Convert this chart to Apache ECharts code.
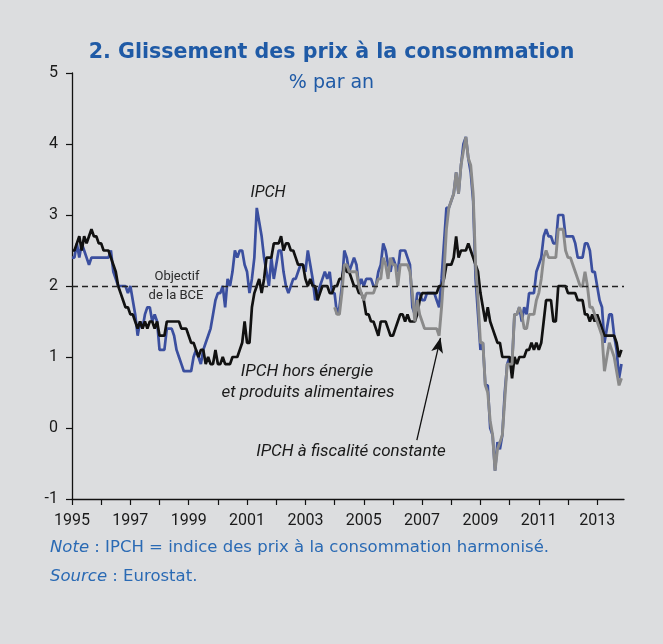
<!DOCTYPE html>
<html>
<head>
<meta charset="utf-8">
<script src="https://cdn.jsdelivr.net/npm/echarts@6/dist/echarts.min.js"></script>
<style>
html,body{margin:0;padding:0;background:#dcdddf;}
#c{width:663px;height:644px;}
</style>
</head>
<body>
<div id="c"></div>
<script>
// Monthly data, Jan 1995 - Nov 2013 (% per year)
const startYear = 1995;
const yearTicks = [1995,1996,1997,1998,1999,2000,2001,2002,2003,2004,2005,2006,2007,2008,2009,2010,2011,2012,2013];
const yearLabels = [1995,1997,1999,2001,2003,2005,2007,2009,2011,2013];

// IPCH (HICP)
const ipch = [
  2.4,2.4,2.6,2.4,2.6,2.5,2.4,2.3,2.4,2.4,2.4,2.4,
  2.4,2.4,2.4,2.4,2.5,2.2,2.1,2.0,2.0,2.0,2.0,1.9,
  2.0,1.8,1.6,1.3,1.5,1.4,1.6,1.7,1.7,1.5,1.6,1.5,
  1.1,1.1,1.1,1.4,1.4,1.4,1.3,1.1,1.0,0.9,0.8,0.8,
  0.8,0.8,1.0,1.1,1.0,0.9,1.1,1.2,1.3,1.4,1.6,1.8,
  1.9,1.9,2.0,1.7,2.1,2.0,2.2,2.5,2.4,2.5,2.5,2.3,
  2.2,1.9,2.1,2.4,3.1,2.9,2.7,2.4,2.2,2.0,2.4,2.1,
  2.3,2.5,2.5,2.2,2.0,1.9,2.0,2.1,2.1,2.2,2.3,2.3,
  2.2,2.5,2.3,2.1,1.8,1.9,2.0,2.1,2.2,2.1,2.2,1.9,
  1.9,1.6,1.7,2.0,2.5,2.4,2.2,2.3,2.4,2.3,2.0,2.1,
  2.0,2.1,2.1,2.1,2.0,2.0,2.2,2.3,2.6,2.5,2.3,2.2,
  2.4,2.3,2.2,2.5,2.5,2.5,2.4,2.3,1.7,1.6,1.9,1.9,
  1.8,1.8,1.9,1.9,1.9,1.9,1.8,1.7,2.1,2.6,3.1,3.1,
  3.2,3.3,3.6,3.3,3.7,4.0,4.1,3.8,3.6,3.2,2.1,1.6,
  1.1,1.2,0.6,0.6,0.0,-0.1,-0.6,-0.2,-0.3,-0.1,0.5,0.9,
  1.0,0.9,1.6,1.6,1.7,1.5,1.7,1.6,1.9,1.9,1.9,2.2,
  2.3,2.4,2.7,2.8,2.7,2.7,2.6,2.6,3.0,3.0,3.0,2.7,
  2.7,2.7,2.7,2.6,2.4,2.4,2.4,2.6,2.6,2.5,2.2,2.2,
  2.0,1.8,1.7,1.2,1.4,1.6,1.6,1.3,1.1,0.7,0.9
];

// IPCH hors énergie et produits alimentaires
const ipchCore = [
  2.5,2.5,2.6,2.7,2.5,2.7,2.6,2.7,2.8,2.7,2.7,2.6,
  2.6,2.5,2.5,2.5,2.4,2.3,2.2,2.0,1.9,1.8,1.7,1.7,
  1.6,1.6,1.5,1.4,1.5,1.4,1.5,1.4,1.5,1.5,1.4,1.5,
  1.3,1.3,1.3,1.5,1.5,1.5,1.5,1.5,1.5,1.4,1.4,1.4,
  1.3,1.2,1.2,1.1,1.0,1.1,1.1,0.9,1.0,0.9,0.9,1.1,
  0.9,0.9,1.0,0.9,0.9,0.9,1.0,1.0,1.0,1.1,1.2,1.5,
  1.2,1.2,1.7,1.9,2.0,2.1,1.9,2.1,2.4,2.4,2.4,2.6,
  2.6,2.6,2.7,2.5,2.6,2.6,2.5,2.5,2.4,2.3,2.3,2.3,
  2.1,2.0,2.1,2.0,2.0,1.8,1.9,2.0,2.0,2.0,1.9,1.9,
  2.0,2.0,2.1,2.1,2.3,2.2,2.2,2.1,2.0,2.0,1.9,1.9,
  1.8,1.6,1.6,1.5,1.5,1.4,1.3,1.5,1.5,1.5,1.4,1.3,
  1.3,1.4,1.5,1.6,1.6,1.5,1.6,1.5,1.5,1.5,1.6,1.8,
  1.9,1.9,1.9,1.9,1.9,1.9,1.9,2.0,2.0,2.1,2.3,2.3,
  2.3,2.4,2.7,2.4,2.5,2.5,2.5,2.6,2.5,2.4,2.3,2.2,
  1.9,1.7,1.5,1.7,1.5,1.4,1.3,1.2,1.2,1.0,1.0,1.0,
  1.0,0.7,1.0,0.9,1.0,1.0,1.0,1.1,1.1,1.2,1.1,1.2,
  1.1,1.2,1.5,1.8,1.8,1.8,1.5,1.5,2.0,2.0,2.0,2.0,
  1.9,1.9,1.9,1.9,1.8,1.8,1.8,1.6,1.6,1.5,1.6,1.5,
  1.6,1.5,1.4,1.3,1.3,1.3,1.3,1.3,1.2,1.0,1.1
];

// IPCH à fiscalité constante (from Jan 2004)
const ctStartYear = 2004;
const ipchConstTax = [
  1.7,1.6,1.6,1.9,2.3,2.3,2.2,2.2,2.2,2.2,2.0,1.9,
  1.8,1.9,1.9,1.9,1.9,2.0,2.1,2.1,2.4,2.3,2.1,2.4,
  2.3,2.3,2.0,2.3,2.3,2.3,2.3,2.2,1.9,1.5,1.8,1.6,
  1.5,1.4,1.4,1.4,1.4,1.4,1.4,1.3,1.7,2.2,2.8,3.1,
  3.2,3.3,3.6,3.3,3.7,3.9,4.1,3.8,3.7,3.3,2.3,1.8,
  1.2,1.2,0.6,0.5,0.1,-0.1,-0.6,-0.3,-0.2,-0.1,0.4,0.9,
  0.9,0.9,1.6,1.6,1.7,1.6,1.4,1.4,1.6,1.6,1.6,1.8,
  1.9,2.1,2.4,2.5,2.4,2.4,2.4,2.4,2.8,2.8,2.8,2.5,
  2.4,2.4,2.3,2.2,2.1,2.0,2.0,2.2,2.0,1.7,1.7,1.6,
  1.5,1.4,1.3,0.8,1.0,1.2,1.1,1.0,0.8,0.6,0.7
];

const targetValue = 2;

function toPoints(arr, y0) {
  return arr.map(function (v, i) { return [y0 + i / 12, v]; });
}

const chart = echarts.init(document.getElementById('c'), null, {renderer: 'canvas'});
const FONT = 'Roboto, "Liberation Sans", sans-serif';
const TFONT = '"DejaVu Sans", Roboto, sans-serif';
const BLUE_TXT = '#1f5aa6';
const NOTE_TXT = '#2a6ab4';

const option = {
  backgroundColor: '#dcdddf',
  animation: false,
  textStyle: {fontFamily: FONT},
  title: [
    {text: '2. Glissement des prix à la consommation', left: 'center', top: 37,
     textStyle: {color: BLUE_TXT, fontSize: 20.6, fontWeight: 'bold', fontFamily: TFONT}},
    {text: '% par an', left: 'center', top: 69,
     textStyle: {color: BLUE_TXT, fontSize: 19, fontWeight: 'normal', fontFamily: TFONT}}
  ],
  grid: {left: 72, right: 39, top: 73, bottom: 145},
  xAxis: {
    type: 'value', min: 1995, max: 2013.92, interval: 1,
    axisLine: {onZero: false, lineStyle: {color: '#111', width: 1.3}},
    axisTick: {show: true, customValues: yearTicks, length: 6, lineStyle: {color: '#111', width: 1.2}},
    axisLabel: {customValues: yearLabels, color: '#1a1a1a', fontSize: 16, margin: 14, fontFamily: FONT,
                formatter: function (v) { return String(Math.round(v)); }},
    splitLine: {show: false}
  },
  yAxis: {
    type: 'value', min: -1, max: 5, interval: 1,
    axisLine: {show: true, lineStyle: {color: '#111', width: 1.3}},
    axisTick: {show: true, length: 6, lineStyle: {color: '#111', width: 1.2}},
    axisLabel: {color: '#1a1a1a', fontSize: 16, margin: 14, fontFamily: FONT},
    splitLine: {show: false}
  },
  series: [
    {
      name: 'IPCH', type: 'line', data: toPoints(ipch, startYear), showSymbol: false, symbol: 'none',
      lineStyle: {color: '#3b4f9f', width: 2.7}, z: 2,
      markLine: {
        silent: true, symbol: ['none', 'none'], label: {show: false},
        lineStyle: {color: '#222', width: 1.3, type: [6, 4]},
        data: [{yAxis: targetValue}]
      }
    },
    {
      name: 'IPCH hors énergie et produits alimentaires', type: 'line', data: toPoints(ipchCore, startYear),
      showSymbol: false, symbol: 'none', lineStyle: {color: '#111111', width: 2.7}, z: 3
    },
    {
      name: 'IPCH à fiscalité constante', type: 'line', data: toPoints(ipchConstTax, ctStartYear),
      showSymbol: false, symbol: 'none', lineStyle: {color: '#8a8a8a', width: 2.9}, z: 4,
      markLine: {
        silent: true, symbol: ['none', 'arrow'], symbolSize: [9, 15], label: {show: false},
        lineStyle: {color: '#111', width: 1.3, type: 'solid'},
        data: [[{coord: [2006.82, -0.17]}, {coord: [2007.63, 1.27]}]]
      }
    }
  ],
  graphic: [
    {type: 'text', x: 268, y: 193, style: {text: 'IPCH', font: 'italic 16px ' + FONT, fill: '#1a1a1a', align: 'center', verticalAlign: 'middle'}},
    {type: 'text', x: 177, y: 277, style: {text: 'Objectif', font: '13px ' + FONT, fill: '#2a2a2a', align: 'center', verticalAlign: 'middle'}},
    {type: 'text', x: 176, y: 296, style: {text: 'de la BCE', font: '13px ' + FONT, fill: '#2a2a2a', align: 'center', verticalAlign: 'middle'}},
    {type: 'text', x: 307, y: 372, style: {text: 'IPCH hors énergie', font: 'italic 17px ' + FONT, fill: '#1a1a1a', align: 'center', verticalAlign: 'middle'}},
    {type: 'text', x: 308, y: 393, style: {text: 'et produits alimentaires', font: 'italic 17px ' + FONT, fill: '#1a1a1a', align: 'center', verticalAlign: 'middle'}},
    {type: 'text', x: 351, y: 452, style: {text: 'IPCH à fiscalité constante', font: 'italic 17px ' + FONT, fill: '#1a1a1a', align: 'center', verticalAlign: 'middle'}},
    {type: 'text', left: 50, top: 539, style: {
      text: '{i|Note} : IPCH = indice des prix à la consommation harmonisé.',
      font: '16.5px ' + TFONT, fill: NOTE_TXT,
      rich: {i: {fontStyle: 'italic', fontSize: 16.5, fill: NOTE_TXT, fontFamily: TFONT}}
    }},
    {type: 'text', left: 50, top: 568, style: {
      text: '{i|Source} : Eurostat.',
      font: '16.5px ' + TFONT, fill: NOTE_TXT,
      rich: {i: {fontStyle: 'italic', fontSize: 16.5, fill: NOTE_TXT, fontFamily: TFONT}}
    }}
  ]
};
chart.setOption(option);
</script>
</body>
</html>
